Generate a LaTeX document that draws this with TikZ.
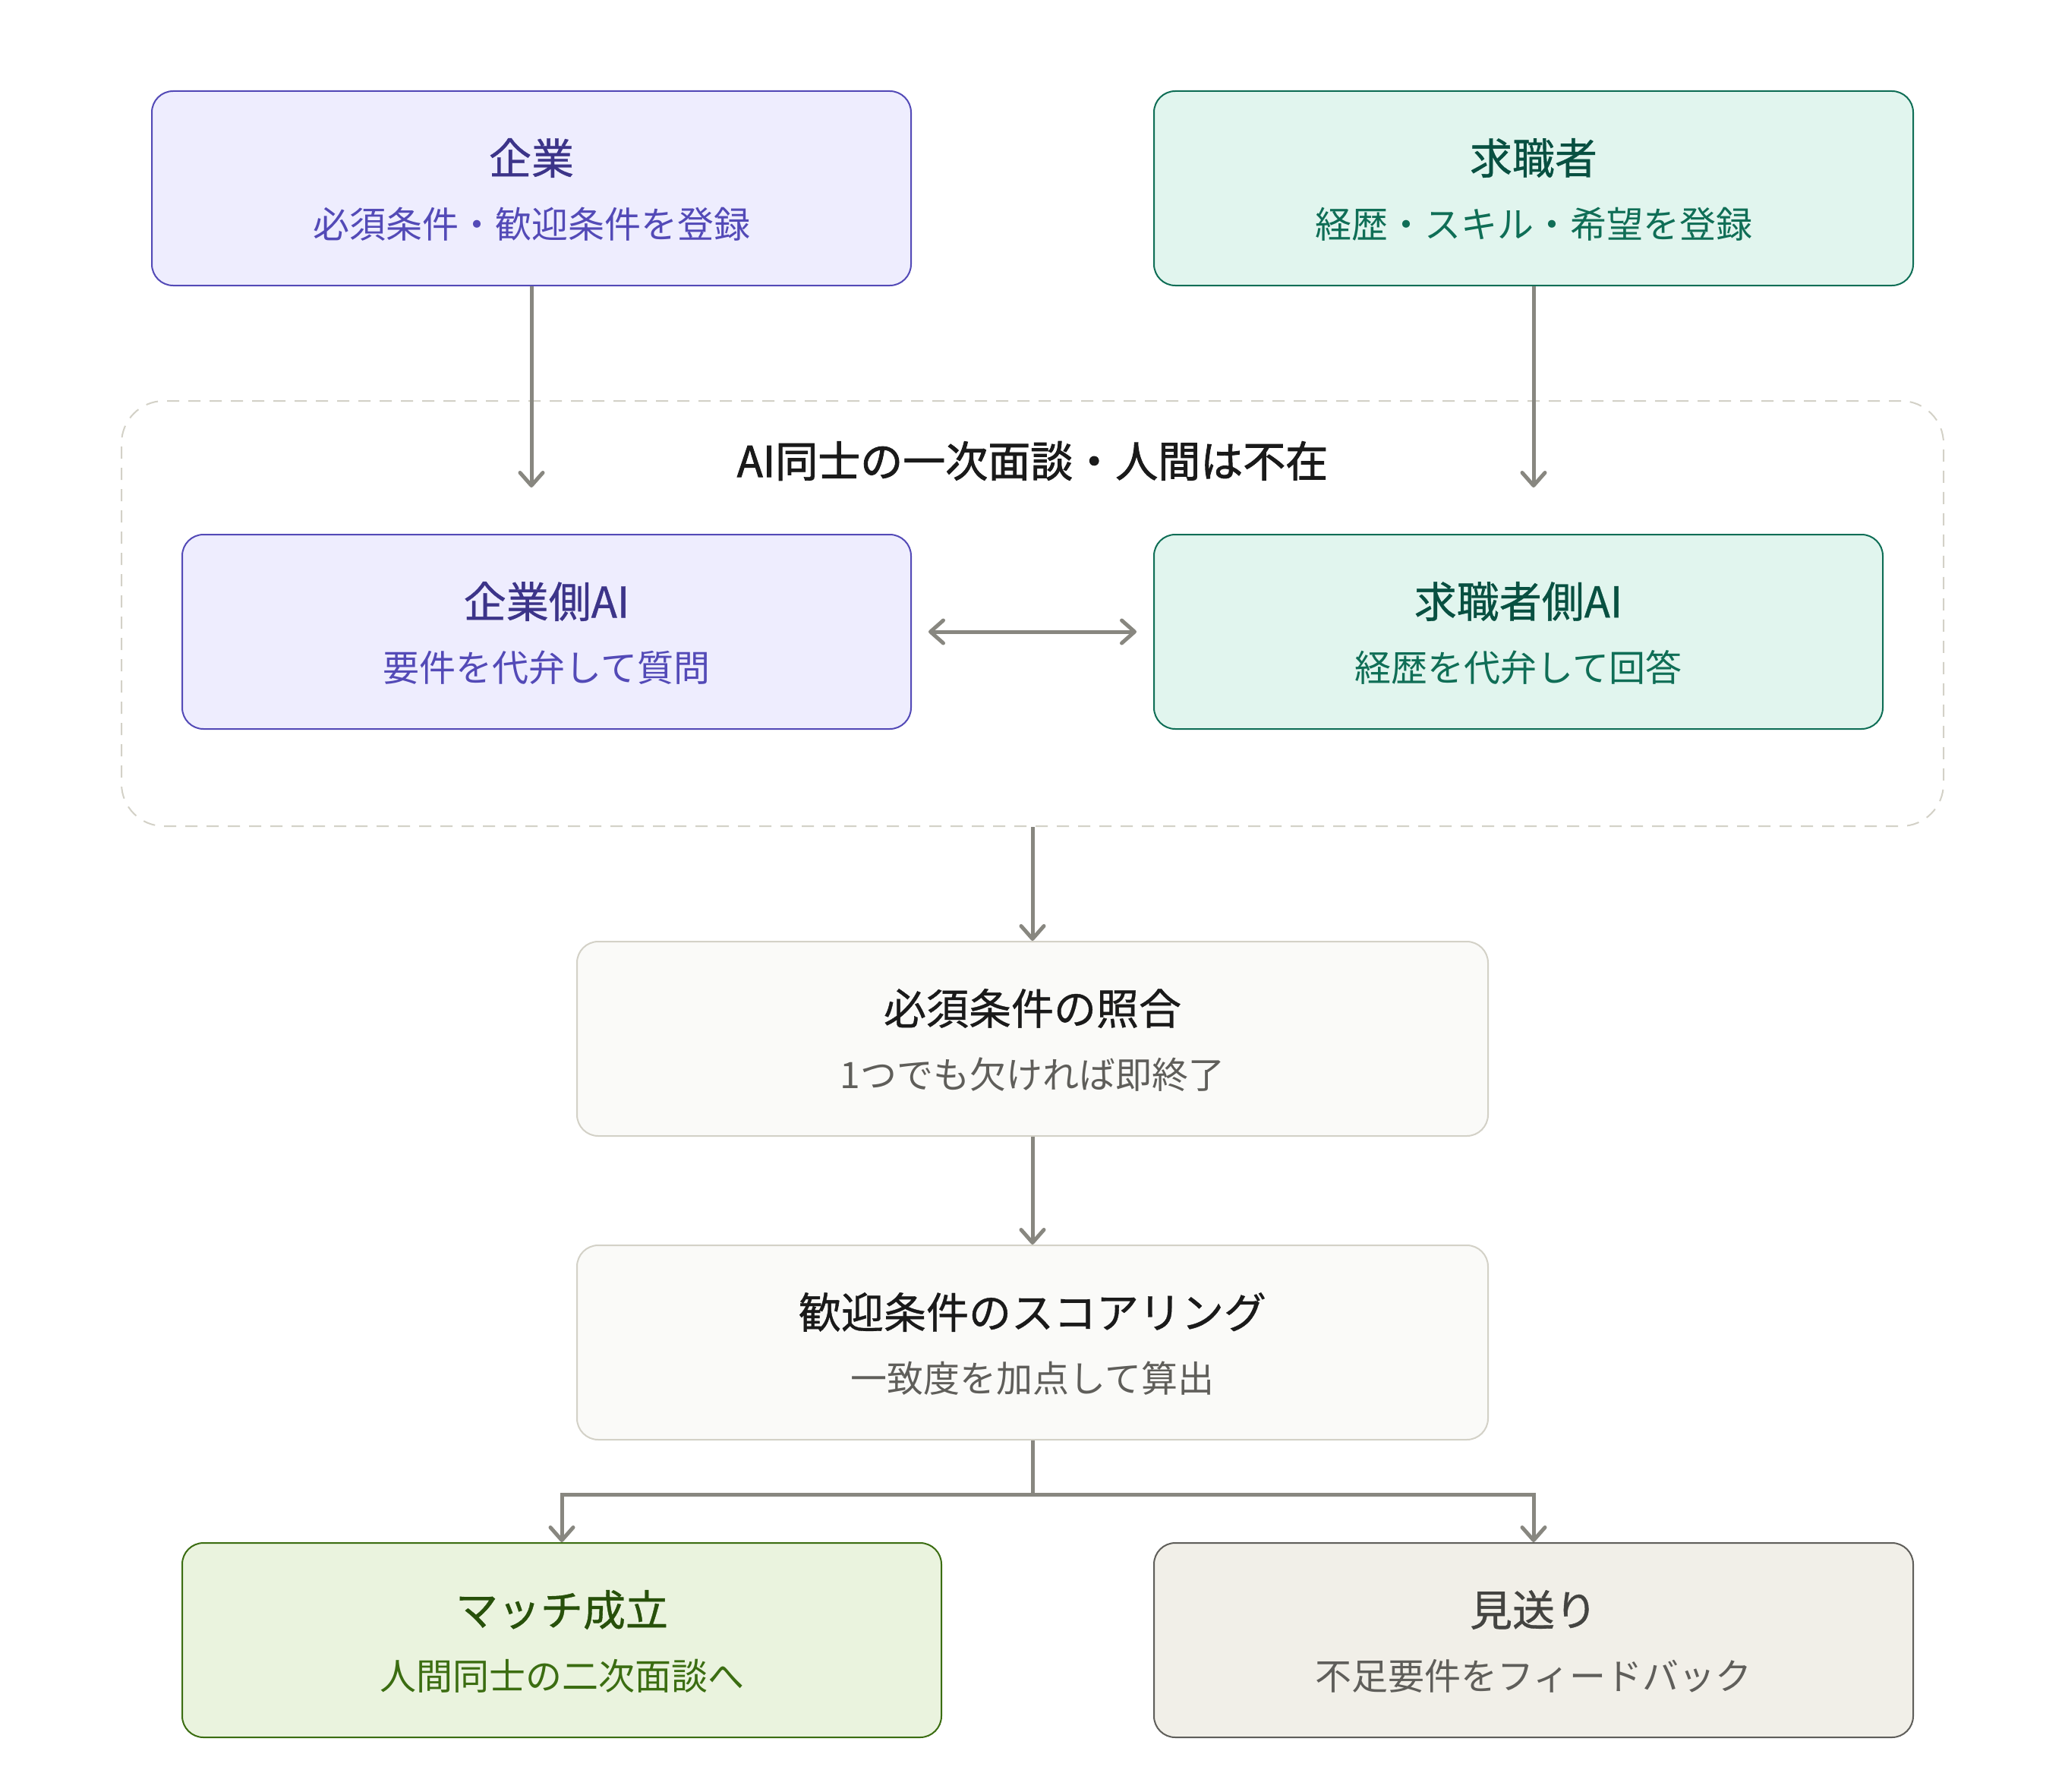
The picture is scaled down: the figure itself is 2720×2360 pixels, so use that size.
\documentclass[tikz,border=0pt]{standalone}
\usepackage{fontspec}
\setmainfont{Noto Sans CJK JP}
\newfontfamily\semibfont[FakeBold=1.6]{Noto Sans CJK JP}
\newfontfamily\medfont[FakeBold=0.7]{Noto Sans CJK JP}
\usetikzlibrary{arrows.meta}
\definecolor{pFill}{HTML}{EEEDFE}
\definecolor{pLine}{HTML}{534AB7}
\definecolor{pTitle}{HTML}{3C3489}
\definecolor{tFill}{HTML}{E1F5EE}
\definecolor{tLine}{HTML}{0F6E56}
\definecolor{tTitle}{HTML}{085041}
\definecolor{nFill}{HTML}{FAFAF8}
\definecolor{nLine}{HTML}{D3D1C7}
\definecolor{nTitle}{HTML}{1A1A1A}
\definecolor{nSub}{HTML}{5F5E5A}
\definecolor{gFill}{HTML}{EAF3DE}
\definecolor{gLine}{HTML}{3B6D11}
\definecolor{gTitle}{HTML}{27500A}
\definecolor{wFill}{HTML}{F1EFE8}
\definecolor{wLine}{HTML}{5F5E5A}
\definecolor{wTitle}{HTML}{444441}
\definecolor{arrowgray}{HTML}{888780}
\definecolor{dashgray}{HTML}{D3D1C7}
\begin{document}
\begin{tikzpicture}[x=1pt,y=-1pt,
  box/.style={draw, line width=2pt, rounded corners=28pt, minimum width=1000pt, minimum height=256pt, inner sep=0pt},
  ttl/.style={inner sep=0pt, font=\fontsize{56}{60}\selectfont\medfont},
  sub/.style={inner sep=0pt, font=\fontsize{48}{52}\selectfont},
  grpbox/.style={draw=dashgray, line width=2pt, dash pattern=on 16pt off 12pt, rounded corners=56pt, minimum width=2400pt, minimum height=560pt, inner sep=0pt},
  arr/.style={draw=arrowgray, line width=5pt, -{Straight Barb[length=17pt,width=30pt,round]}},
  darr/.style={draw=arrowgray, line width=5pt, {Straight Barb[length=17pt,width=30pt,round]}-{Straight Barb[length=17pt,width=30pt,round]}}
]
\useasboundingbox (0,0) rectangle (2720,2360);
\fill[white] (0,0) rectangle (2720,2360);

% container
\node[grpbox] (grp) at (1360,808) {};
\node[ttl, font=\fontsize{56}{60}\selectfont\semibfont, text=nTitle] (grpt) at (1360,607) {AI同士の一次面談・人間は不在};

% top boxes
\node[box, fill=pFill, draw=pLine] (b1) at (700,248) {};
\node[ttl, text=pTitle] (b1t) at ([yshift=40pt]b1.center) {企業};
\node[sub, text=pLine] (b1s) at ([yshift=-47pt]b1.center) {必須条件・歓迎条件を登録};

\node[box, fill=tFill, draw=tLine] (b2) at (2020,248) {};
\node[ttl, text=tTitle] (b2t) at ([yshift=40pt]b2.center) {求職者};
\node[sub, text=tLine] (b2s) at ([yshift=-47pt]b2.center) {経歴・スキル・希望を登録};

% AI boxes
\node[box, minimum width=960pt, fill=pFill, draw=pLine] (ai1) at (720,832) {};
\node[ttl, text=pTitle] (ai1t) at ([yshift=40pt]ai1.center) {企業側AI};
\node[sub, text=pLine] (ai1s) at ([yshift=-47pt]ai1.center) {要件を代弁して質問};

\node[box, minimum width=960pt, fill=tFill, draw=tLine] (ai2) at (2000,832) {};
\node[ttl, text=tTitle] (ai2t) at ([yshift=40pt]ai2.center) {求職者側AI};
\node[sub, text=tLine] (ai2s) at ([yshift=-47pt]ai2.center) {経歴を代弁して回答};

% process boxes
\node[box, minimum width=1200pt, fill=nFill, draw=nLine] (chk) at (1360,1368) {};
\node[ttl, text=nTitle] (chkt) at ([yshift=40pt]chk.center) {必須条件の照合};
\node[sub, text=nSub] (chks) at ([yshift=-47pt]chk.center) {1つでも欠ければ即終了};

\node[box, minimum width=1200pt, fill=nFill, draw=nLine] (score) at (1360,1768) {};
\node[ttl, text=nTitle] (scoret) at ([yshift=40pt]score.center) {歓迎条件のスコアリング};
\node[sub, text=nSub] (scores) at ([yshift=-47pt]score.center) {一致度を加点して算出};

% result boxes
\node[box, fill=gFill, draw=gLine] (match) at (740,2160) {};
\node[ttl, text=gTitle] (matcht) at ([yshift=40pt]match.center) {マッチ成立};
\node[sub, text=gLine] (matchs) at ([yshift=-47pt]match.center) {人間同士の二次面談へ};

\node[box, fill=wFill, draw=wLine] (miss) at (2020,2160) {};
\node[ttl, text=wTitle] (misst) at ([yshift=40pt]miss.center) {見送り};
\node[sub, text=wLine] (misss) at ([yshift=-47pt]miss.center) {不足要件をフィードバック};

% connectors
\coordinate (e1) at (700,642);
\coordinate (e2) at (2020,642);
\coordinate (split) at (1360,1968);
\draw[arr] (b1) -- (e1);
\draw[arr] (b2) -- (e2);
\draw[darr, shorten <=22pt, shorten >=22pt] (ai1) -- (ai2);
\draw[arr] (grp) -- (chk);
\draw[arr] (chk) -- (score);
\draw[arr] (score.south) -- (split) -| (match.north);
\draw[arr] (split) -| (miss.north);
\end{tikzpicture}
\end{document}
